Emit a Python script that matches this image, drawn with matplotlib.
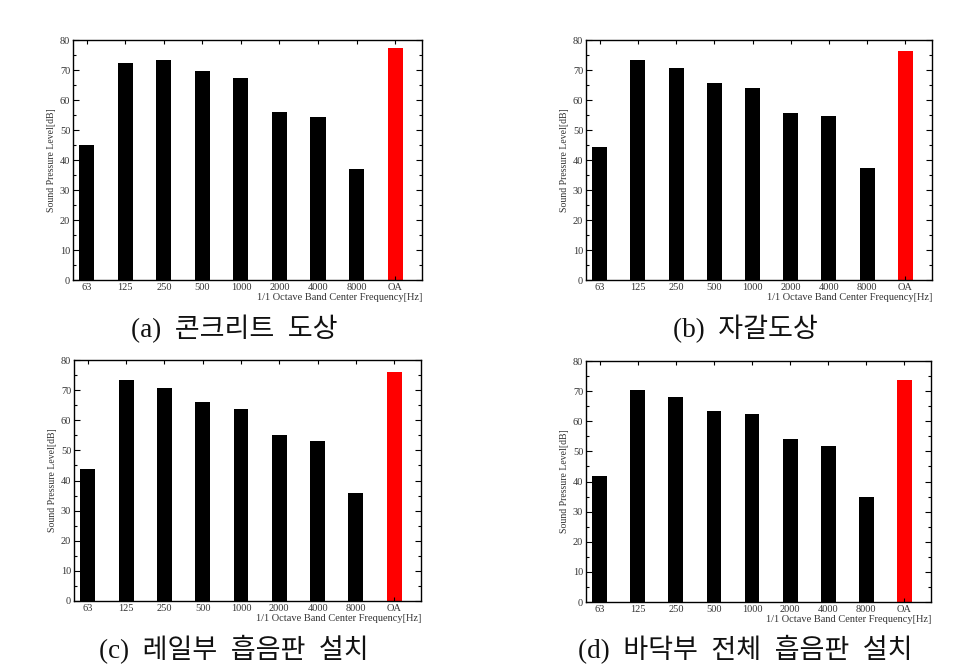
import matplotlib
matplotlib.use("Agg")
import matplotlib.pyplot as plt
from matplotlib.ticker import MultipleLocator

bands = ["63", "125", "250", "500", "1000", "2000", "4000", "8000", "OA"]
spl_a = [45.0, 72.4, 73.3, 69.7, 67.2, 55.9, 54.2, 37.1, 77.2]
spl_b = [44.2, 73.3, 70.6, 65.6, 64.1, 55.7, 54.6, 37.3, 76.3]
spl_c = [43.8, 73.2, 70.6, 66.0, 63.9, 55.2, 53.0, 35.8, 75.9]
spl_d = [41.7, 70.5, 68.2, 63.5, 62.5, 54.2, 51.8, 35.0, 73.6]
captions = ["(a)  콘크리트  도상", "(b)  자갈도상",
            "(c)  레일부  흡음판  설치", "(d)  바닥부  전체  흡음판  설치"]
xlabel = "1/1 Octave Band Center Frequency[Hz]"
ylabel = "Sound Pressure Level[dB]"

W, H = 962, 668
fig = plt.figure(figsize=(W / 100, H / 100), dpi=100)

# pixel boxes: left, right, top, bottom
boxes = [(73, 422, 40, 280), (586, 932, 40, 280),
         (74, 421, 360, 601), (586, 931, 361, 602)]
cap_pos = [(234, 329), (745, 329), (234, 650), (745, 650)]
datasets = [spl_a, spl_b, spl_c, spl_d]

serif = ["Liberation Serif", "DejaVu Serif"]
cap_font = ["Liberation Serif", "Noto Sans CJK KR"]

for data, (l, r, t, b), (cx, cy), cap in zip(datasets, boxes, cap_pos, captions):
    ax = fig.add_axes([l / W, 1 - b / H, (r - l) / W, (b - t) / H])
    x = list(range(len(bands)))
    colors = ["black"] * (len(bands) - 1) + ["#ff0000"]
    ax.bar(x, data, width=0.39, color=colors, edgecolor="none")
    ax.set_xlim(-0.36, 8.70)
    ax.set_ylim(0, 80)
    ax.set_xticks(x)
    ax.set_xticklabels(bands, fontfamily=serif, fontsize=7.5, color="#333333")
    ax.yaxis.set_major_locator(MultipleLocator(10))
    ax.yaxis.set_minor_locator(MultipleLocator(5))
    for lab in ax.get_yticklabels():
        lab.set_fontfamily(serif)
        lab.set_fontsize(7.5)
        lab.set_color("#333333")
    ax.tick_params(axis="y", which="both", direction="in", right=True, left=True,
                   width=0.8, pad=2)
    ax.tick_params(axis="y", which="major", length=4)
    ax.tick_params(axis="y", which="minor", length=2)
    ax.tick_params(axis="x", which="major", direction="in", top=True, bottom=True,
                   length=3, width=0.8, pad=2)
    for s in ax.spines.values():
        s.set_linewidth(1.0)
    ax.set_ylabel(ylabel, fontfamily=serif, fontsize=7, color="#333333", labelpad=3)
    ax.text(1.0, -0.055, xlabel, transform=ax.transAxes, ha="right", va="top",
            fontfamily=serif, fontsize=7.5, color="#333333")
    fig.text(cx / W, 1 - cy / H, cap, ha="center", va="center",
             fontfamily=cap_font, fontsize=19.5, color="#111111",
             fontweight="light")

fig.savefig("out.png", dpi=100, facecolor="white")
